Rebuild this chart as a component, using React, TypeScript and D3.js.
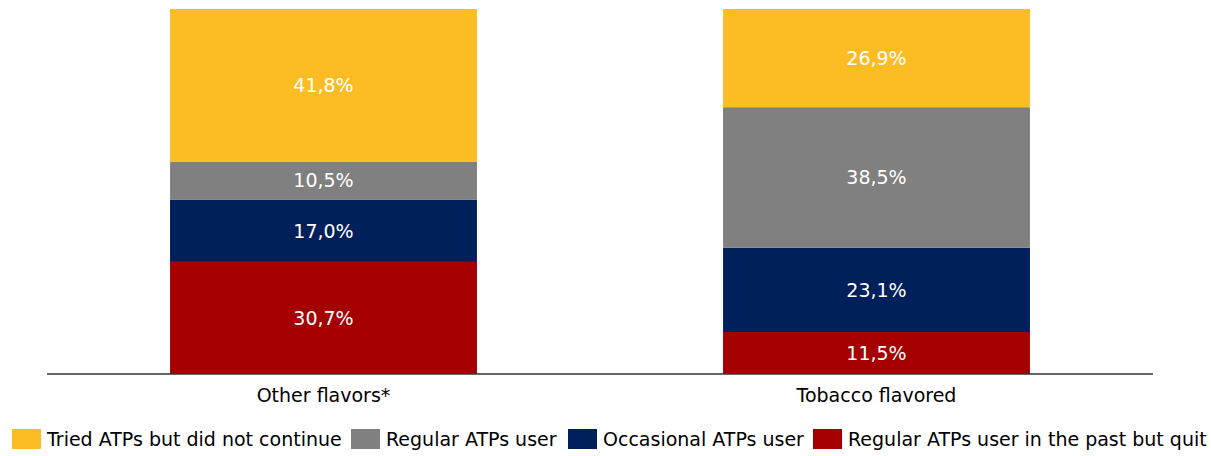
import React from "react";
import * as d3 from "d3";

const categories = ["Other flavors*", "Tobacco flavored"];
const seriesNames = [
  "Regular ATPs user in the past but quit",
  "Occasional ATPs user",
  "Regular ATPs user",
  "Tried ATPs but did not continue",
];
const quitValues = [30.7, 11.5];
const occasionalValues = [17.0, 23.1];
const regularValues = [10.5, 38.5];
const triedValues = [41.8, 26.9];
const colors = ["#A50000", "#00205B", "#808080", "#FBBC24"];
const legendOrder = [3, 2, 1, 0];

const W = 1211;
const H = 456;
const FONT = "'DejaVu Sans', Verdana, sans-serif";

export default function App() {
  const values = [quitValues, occasionalValues, regularValues, triedValues];
  const x = d3.scaleBand().domain(categories).range([47, 1153]).paddingInner(0.445).paddingOuter(0.2225);
  const y = d3.scaleLinear().domain([0, 100]).range([374, 9]);
  const rows = categories.map((c, i) => {
    const o: any = { cat: c };
    seriesNames.forEach((s, j) => (o[s] = values[j][i]));
    return o;
  });
  const stacked = d3.stack<any>().keys(seriesNames)(rows);
  const fmt = (v: number) => v.toFixed(1).replace(".", ",") + "%";

  const legendX = [12, 351, 568, 813];
  return (
    <svg width={W} height={H} style={{ position: "absolute", left: 0, top: 0 }} fontFamily={FONT}>
      {stacked.map((layer, j) => (
        <g key={j}>
          {layer.map((d, i) => (
            <rect
              key={i}
              x={x(categories[i])}
              width={x.bandwidth()}
              y={y(d[1])}
              height={y(d[0]) - y(d[1])}
              fill={colors[j]}
            />
          ))}
          {layer.map((d, i) => (
            <text
              key={"t" + i}
              x={(x(categories[i]) as number) + x.bandwidth() / 2}
              y={(y(d[0]) + y(d[1])) / 2}
              dy="0.35em"
              textAnchor="middle"
              fill="#fff"
              fontSize={19}
            >
              {fmt(d[1] - d[0])}
            </text>
          ))}
        </g>
      ))}
      <line x1={47} x2={1153} y1={374} y2={374} stroke="#333" strokeWidth={1.5} />
      {categories.map((c) => (
        <text key={c} x={(x(c) as number) + x.bandwidth() / 2} y={395} dy="0.35em" textAnchor="middle" fontSize={19} fill="#000">
          {c}
        </text>
      ))}
      {legendOrder.map((j, k) => (
        <g key={j} transform={`translate(${legendX[k]},429)`}>
          <rect width={29} height={20} fill={colors[j]} />
          <text x={35} y={10} dy="0.35em" fontSize={19} fill="#000">
            {seriesNames[j]}
          </text>
        </g>
      ))}
    </svg>
  );
}
